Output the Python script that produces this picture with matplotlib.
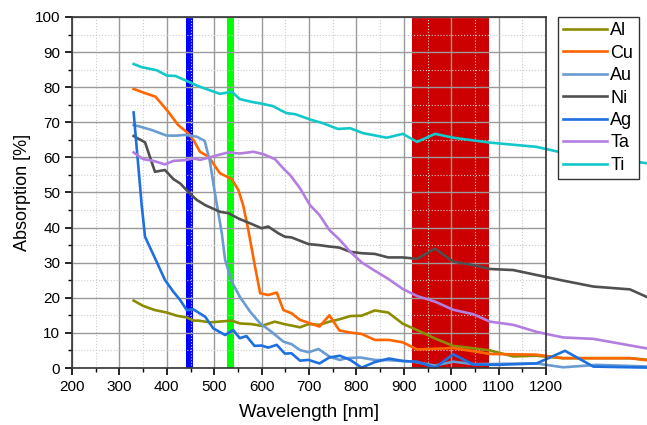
import matplotlib
matplotlib.use("Agg")
import matplotlib.pyplot as plt
from matplotlib.ticker import MultipleLocator

plt.rcParams["font.family"] = ["Liberation Sans", "DejaVu Sans"]

# wavelength [nm] / absorption [%]
al_wl = [330, 350, 375, 400, 421, 442, 456, 467, 491, 509, 537, 554, 579, 600, 628, 648,
         681, 699, 722, 743, 765, 787, 811, 839, 867, 898, 928, 966, 1004, 1047, 1082,
         1131, 1180, 1236, 1377, 1420]
al_abs = [19.2, 17.7, 16.5, 15.8, 14.9, 14.4, 13.5, 13.5, 13.0, 13.2, 13.5, 12.7, 12.5, 12.0,
          13.2, 12.5, 11.6, 12.5, 12.3, 13.2, 13.9, 14.8, 14.9, 16.4, 15.8, 12.6, 10.8, 8.4,
          6.3, 5.6, 5.0, 3.3, 3.5, 2.8, 2.8, 2.3]

cu_wl = [330, 354, 376, 403, 424, 445, 456, 470, 488, 512, 537, 551, 561, 572, 586, 597,
         614, 632, 646, 663, 681, 699, 722, 743, 764, 787, 811, 839, 869, 898, 928, 969,
         1004, 1082, 1180, 1236, 1377, 1420]
cu_abs = [79.5, 78.3, 77.3, 73.0, 69.2, 66.9, 65.0, 61.6, 60.2, 55.5, 53.8, 50.7, 46.4, 39.3,
          28.9, 21.3, 20.8, 21.5, 16.5, 15.6, 13.7, 12.9, 11.8, 15.0, 10.7, 10.1, 9.7, 8.0,
          8.0, 7.3, 5.3, 5.5, 5.7, 4.0, 3.8, 2.8, 2.8, 2.1]

au_wl = [330, 340, 368, 400, 421, 438, 463, 480, 491, 501, 516, 523, 537, 554, 576, 597,
         621, 646, 663, 681, 699, 720, 744, 765, 779, 808, 839, 871, 920, 966, 1004, 1047,
         1180, 1236, 1307, 1420]
au_abs = [69.2, 68.9, 67.8, 66.2, 66.2, 66.4, 65.9, 64.7, 58.8, 50.2, 38.4, 30.8, 24.6, 20.3,
          16.0, 12.7, 10.3, 7.5, 6.8, 5.1, 4.5, 5.4, 3.2, 2.3, 2.8, 3.0, 2.3, 2.2, 1.8, 0.7,
          1.8, 1.1, 1.3, 0.2, 0.9, 0.4]

ni_wl = [330, 336, 354, 375, 396, 414, 428, 445, 463, 481, 512, 530, 551, 576, 600, 614,
         635, 649, 663, 699, 722, 743, 764, 787, 811, 839, 867, 898, 928, 966, 1004, 1047,
         1082, 1131, 1180, 1236, 1300, 1377, 1420]
ni_abs = [66.1, 65.6, 64.3, 55.9, 56.4, 53.8, 52.6, 50.2, 47.9, 46.4, 44.5, 44.1, 42.6, 41.2,
          39.8, 40.3, 38.4, 37.4, 37.2, 35.3, 35.0, 34.6, 34.3, 33.1, 32.7, 32.5, 31.5, 31.5,
          31.1, 34.0, 30.3, 29.3, 28.2, 27.9, 26.5, 24.9, 23.2, 22.4, 19.8]

ag_wl = [330, 347, 354, 375, 396, 414, 428, 442, 456, 481, 498, 523, 540, 554, 568, 585,
         600, 614, 632, 649, 663, 681, 699, 722, 743, 765, 787, 811, 839, 869, 898, 928,
         966, 1004, 1047, 1096, 1180, 1240, 1300, 1420]
ag_abs = [72.8, 46.4, 37.4, 31.3, 25.1, 21.7, 19.4, 16.5, 16.7, 14.6, 11.3, 9.4, 10.8, 8.5,
          9.1, 6.3, 6.4, 5.8, 6.6, 4.1, 4.2, 2.1, 2.3, 1.3, 3.0, 3.5, 2.3, 0.1, 1.7, 2.7,
          2.0, 1.8, 0.1, 3.9, 1.0, 0.9, 1.3, 4.9, 0.4, 0.1]

ta_wl = [330, 350, 372, 396, 414, 438, 456, 470, 488, 509, 530, 554, 583, 604, 628, 649,
         660, 681, 702, 722, 743, 765, 787, 811, 839, 867, 898, 928, 966, 1004, 1047, 1082,
         1131, 1180, 1236, 1300, 1420]
ta_abs = [61.4, 59.5, 59.0, 58.0, 59.0, 59.2, 59.7, 59.3, 59.9, 60.7, 61.4, 61.1, 61.6, 60.9,
          59.5, 56.4, 55.0, 51.2, 46.4, 43.6, 39.3, 36.5, 33.1, 30.1, 27.7, 25.4, 22.5, 20.5,
          18.9, 16.6, 15.3, 13.2, 12.3, 10.3, 8.7, 8.3, 5.4]

ti_wl = [330, 347, 365, 379, 400, 418, 445, 466, 487, 512, 537, 554, 579, 600, 624, 639,
         653, 671, 702, 730, 761, 787, 814, 864, 898, 928, 966, 1004, 1082, 1180, 1226,
         1320, 1420]
ti_abs = [86.6, 85.7, 85.2, 84.8, 83.3, 83.2, 81.6, 80.3, 79.3, 78.1, 78.7, 76.6, 75.8, 75.3,
          74.6, 73.5, 72.6, 72.3, 70.8, 69.7, 68.1, 68.3, 66.9, 65.6, 66.7, 64.4, 66.7, 65.6,
          64.2, 63.0, 61.6, 60.0, 58.2]

series = [
    ("Al", al_wl, al_abs, "#8c8c00"),
    ("Cu", cu_wl, cu_abs, "#ff6600"),
    ("Au", au_wl, au_abs, "#6a9bd1"),
    ("Ni", ni_wl, ni_abs, "#505050"),
    ("Ag", ag_wl, ag_abs, "#1e6fe0"),
    ("Ta", ta_wl, ta_abs, "#b27ee0"),
    ("Ti", ti_wl, ti_abs, "#12c8c8"),
]

# laser lines / band
bands = [(440, 455, "#0000ff"), (527, 542, "#00ff00"), (918, 1080, "#cc0000")]

fig = plt.figure(figsize=(6.47, 4.25), dpi=100)
ax = fig.add_axes([0.1113, 0.1341, 0.7326, 0.826])

for lo, hi, col in bands:
    ax.axvspan(lo, hi, color=col, lw=0, zorder=0.3)

for name, wl, ab, col in series:
    ax.plot(wl, ab, color=col, lw=1.9, label=name, clip_on=False, zorder=2)

ax.set_xlim(200, 1200)
ax.set_ylim(0, 100)
ax.xaxis.set_major_locator(MultipleLocator(100))
ax.xaxis.set_minor_locator(MultipleLocator(50))
ax.yaxis.set_major_locator(MultipleLocator(10))
ax.yaxis.set_minor_locator(MultipleLocator(5))

ax.set_axisbelow(True)
ax.grid(True, which="major", color="#9a9a9a", lw=1.0, ls="-")
ax.grid(True, which="minor", color="#cccccc", lw=0.8, ls=":")

ax.tick_params(which="major", direction="out", length=5, width=1.2, labelsize=11)
ax.tick_params(which="minor", direction="out", length=3, width=1.0)
for sp in ax.spines.values():
    sp.set_color("#333333")
    sp.set_linewidth(1.2)

ax.set_xlabel("Wavelength [nm]", fontsize=13.5, labelpad=7)
ax.set_ylabel("Absorption [%]", fontsize=13, labelpad=3)

leg = ax.legend(loc="upper left", bbox_to_anchor=(1.025, 1.0), borderaxespad=0,
                fancybox=False, framealpha=1, edgecolor="#333333", fontsize=13,
                handlelength=2.4, handletextpad=0.2, labelspacing=0.3, borderpad=0.3)
leg.get_frame().set_linewidth(1.0)
leg.set_zorder(5)

fig.savefig("out.png", dpi=100)
